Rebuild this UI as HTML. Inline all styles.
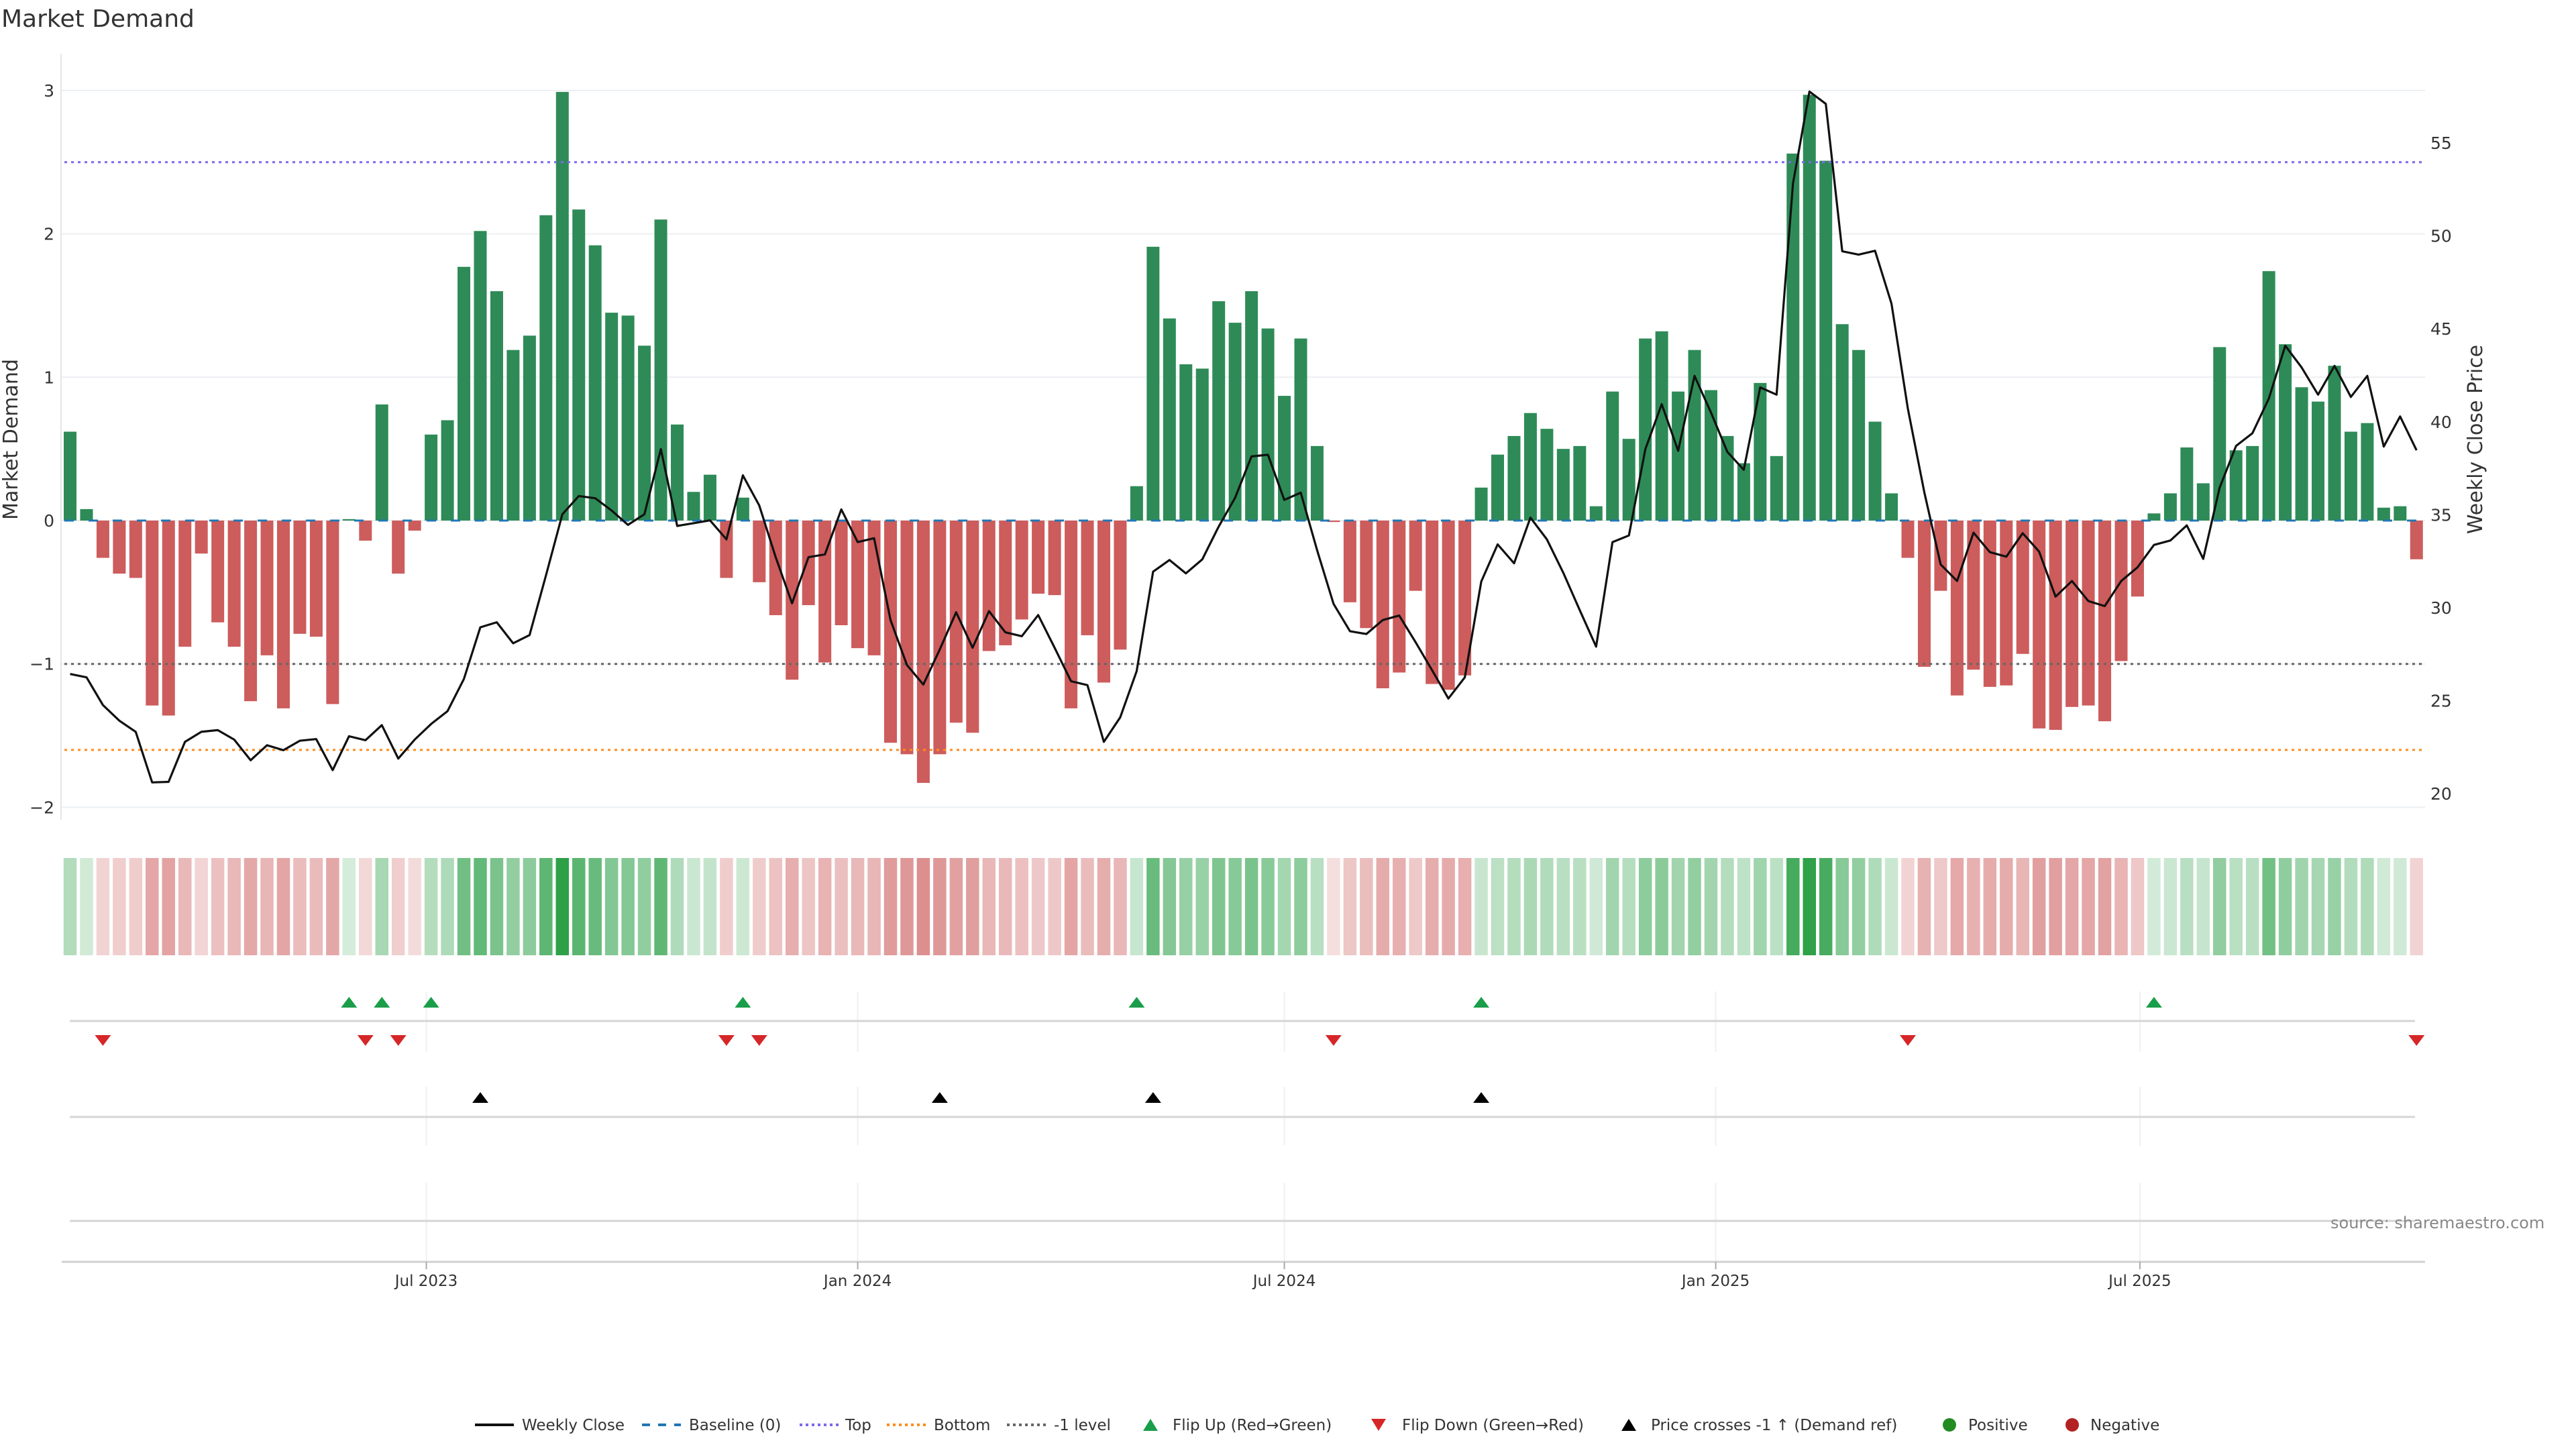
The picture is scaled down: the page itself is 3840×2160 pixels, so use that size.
<!DOCTYPE html>
<html><head><meta charset="utf-8">
<style>
html,body{margin:0;padding:0;background:#fff;}
svg{display:block;font-family:"DejaVu Sans","Liberation Sans",sans-serif;}
</style></head>
<body>
<svg id="chart" width="3840" height="2160" viewBox="0 0 3840 2160" xmlns="http://www.w3.org/2000/svg">
<rect width="3840" height="2160" fill="#fff"/>
<text x="2" y="40" font-size="36" fill="#333">Market Demand</text>
<text transform="translate(26,655) rotate(-90)" text-anchor="middle" font-size="30" fill="#333">Market Demand</text>
<text transform="translate(3700,655) rotate(-90)" text-anchor="middle" font-size="30" fill="#333">Weekly Close Price</text>
<g id="grid"></g>
<g id="bars"></g>
<g id="refs"></g>
<g id="price"></g>
<g id="heat"></g>
<g id="events"></g>
<g id="xaxis"></g>
<text x="3474" y="1831" font-size="24" fill="#888">source: sharemaestro.com</text>
<g id="legend"></g>
</svg>
<script>
const demand = [0.62,0.08,-0.26,-0.37,-0.40,-1.29,-1.36,-0.88,-0.23,-0.71,-0.88,-1.26,-0.94,-1.31,-0.79,-0.81,-1.28,0.01,-0.14,0.81,-0.37,-0.07,0.60,0.70,1.77,2.02,1.60,1.19,1.29,2.13,2.99,2.17,1.92,1.45,1.43,1.22,2.10,0.67,0.20,0.32,-0.40,0.16,-0.43,-0.66,-1.11,-0.59,-0.99,-0.73,-0.89,-0.94,-1.55,-1.63,-1.83,-1.63,-1.41,-1.48,-0.91,-0.87,-0.69,-0.51,-0.52,-1.31,-0.80,-1.13,-0.90,0.24,1.91,1.41,1.09,1.06,1.53,1.38,1.60,1.34,0.87,1.27,0.52,-0.01,-0.57,-0.75,-1.17,-1.06,-0.49,-1.14,-1.18,-1.08,0.23,0.46,0.59,0.75,0.64,0.50,0.52,0.10,0.90,0.57,1.27,1.32,0.90,1.19,0.91,0.59,0.40,0.96,0.45,2.56,2.97,2.51,1.37,1.19,0.69,0.19,-0.26,-1.02,-0.49,-1.22,-1.04,-1.16,-1.15,-0.93,-1.45,-1.46,-1.30,-1.29,-1.40,-0.98,-0.53,0.05,0.19,0.51,0.26,1.21,0.49,0.52,1.74,1.23,0.93,0.83,1.08,0.62,0.68,0.09,0.10,-0.27];
const closePrice = [26.44,26.26,24.77,23.93,23.33,20.61,20.64,22.79,23.33,23.42,22.91,21.80,22.61,22.34,22.85,22.94,21.27,23.09,22.88,23.69,21.89,22.91,23.75,24.44,26.17,28.95,29.22,28.09,28.53,31.73,35.03,36.01,35.89,35.23,34.46,35.03,38.53,34.40,34.55,34.70,33.68,37.12,35.50,32.72,30.24,32.72,32.87,35.29,33.53,33.74,29.34,26.92,25.87,27.76,29.76,27.85,29.82,28.68,28.47,29.61,27.85,26.05,25.84,22.79,24.11,26.59,31.94,32.57,31.85,32.60,34.37,35.92,38.14,38.23,35.80,36.19,33.08,30.21,28.74,28.59,29.34,29.58,28.15,26.65,25.12,26.26,31.41,33.41,32.39,34.85,33.68,31.88,29.88,27.91,33.53,33.89,38.53,40.95,38.44,42.47,40.50,38.38,37.42,41.85,41.46,52.82,57.76,57.10,49.17,48.99,49.20,46.36,40.71,36.22,32.33,31.44,34.04,32.99,32.75,34.01,33.02,30.60,31.44,30.36,30.09,31.44,32.18,33.38,33.62,34.43,32.63,36.46,38.70,39.39,41.25,44.09,42.92,41.46,43.01,41.34,42.47,38.67,40.29,38.47];
const flipUpIdx = [17,19,22,41,65,86,127];
const flipDownIdx = [2,18,20,40,42,77,112,143];
const priceCrossIdx = [25,53,66,86];
const leftTicks = [3,2,1,0,-1,-2];
const rightTicks = [55,50,45,40,35,30,25,20];
const dateTickLabels = ["Jul 2023","Jan 2024","Jul 2024","Jan 2025","Jul 2025"];
const dateTickWeeks = [21.71,48.0,74.0,100.29,126.14];
const topLevel = 2.5, bottomLevel = -1.6, minusLevel = -1;

const NS="http://www.w3.org/2000/svg";
function mk(parent,tag,attrs,text){const e=document.createElementNS(NS,tag);for(const k in attrs)e.setAttribute(k,attrs[k]);if(text!==undefined)e.textContent=text;parent.appendChild(e);return e;}
const X0=104.5, PITCH=24.46;
const xs=i=>X0+i*PITCH;
const yL=v=>776-v*213.7;
const yR=p=>906-(p-30)*27.72;
const PL=91, PR=3615;

const grid=document.getElementById('grid');
leftTicks.forEach(t=>{
  const l=mk(grid,'line',{x1:PL,x2:PR,y1:yL(t),y2:yL(t),stroke:'#eceff2','stroke-width':2});
  
  
  const tx=mk(grid,'text',{x:PL-10,y:yL(t)+9,'text-anchor':'end','font-size':25,fill:'#333'},t<0?'\u2212'+Math.abs(t):String(t));
  
  
});
rightTicks.forEach(t=>{
  const tx=mk(grid,'text',{x:3623,y:yR(t)+9,'font-size':25,fill:'#333'},String(t));
  
  
});
const ax=mk(grid,'line',{x1:PL,x2:PL,y1:80,y2:1222,stroke:'#e6e6e6','stroke-width':2});



const bars=document.getElementById('bars');
demand.forEach((v,i)=>{
  const y0=yL(0), y1=yL(v);
  const r=mk(bars,'rect',{x:xs(i)-9.5,y:Math.min(y0,y1),width:19,height:Math.max(0.5,Math.abs(y1-y0)),fill:v>=0?'#2e8b57':'#cd5c5c'});
  
  
});

const refs=document.getElementById('refs');
function ref(v,color,dash,name){const l=mk(refs,'line',{x1:PL+5,x2:PR,y1:yL(v),y2:yL(v),stroke:color,'stroke-width':3,'stroke-dasharray':dash});
  
  }
ref(0,'#1f77b4','14 22','baseline-line');
ref(topLevel,'#7b68ee','4 6','top-line');
ref(minusLevel,'#666','4 6','minus-one-line');
ref(bottomLevel,'#ff8c1a','4 6','bottom-line');

const pr=document.getElementById('price');
const pl=mk(pr,'polyline',{points:closePrice.map((p,i)=>xs(i).toFixed(1)+','+yR(p).toFixed(1)).join(' '),fill:'none',stroke:'#111','stroke-width':3.2,'stroke-linejoin':'round'});



const heat=document.getElementById('heat');
demand.forEach((v,i)=>{
  const a=Math.min(1,0.2+0.8*Math.abs(v)/3);
  const base=v>=0?[44,160,72]:[205,92,92];
  const c=base.map(b=>Math.round(b*a+255*(1-a)));
  const r=mk(heat,'rect',{x:xs(i)-9.75,y:1279,width:19.5,height:145,fill:`rgb(${c[0]},${c[1]},${c[2]})`});
  
  
});

const ev=document.getElementById('events');
[[1478,1568],[1620,1708],[1763,1880]].forEach(([a,b])=>{
  dateTickWeeks.forEach(w=>{const l=mk(ev,'line',{x1:xs(w),x2:xs(w),y1:a,y2:b,stroke:'#eef0f3','stroke-width':2});
    
    });
});
[1522,1665,1820].forEach(y=>{const l=mk(ev,'line',{x1:104,x2:3600,y1:y,y2:y,stroke:'#d5d5d5','stroke-width':3});
  
  });
function tri(x,y,up,color,name){const h=16,w=12;
  const pts=up?`${x-w},${y+h/2} ${x+w},${y+h/2} ${x},${y-h/2}`:`${x-w},${y-h/2} ${x+w},${y-h/2} ${x},${y+h/2}`;
  const t=mk(ev,'polygon',{points:pts,fill:color});
  
  }
flipUpIdx.forEach(i=>tri(xs(i),1494,true,'#1a9e4a','flip-up-marker'));
flipDownIdx.forEach(i=>tri(xs(i),1551,false,'#d62728','flip-down-marker'));
priceCrossIdx.forEach(i=>tri(xs(i),1636,true,'#000','price-cross-marker'));

const xa=document.getElementById('xaxis');
const axl=mk(xa,'line',{x1:92,x2:3615,y1:1881,y2:1881,stroke:'#d0d0d0','stroke-width':3});


dateTickWeeks.forEach((w,k)=>{
  const t=mk(xa,'line',{x1:xs(w),x2:xs(w),y1:1881,y2:1892,stroke:'#aaa','stroke-width':2});
  
  
  const tx=mk(xa,'text',{x:xs(w),y:1917,'text-anchor':'middle','font-size':23,fill:'#333'},dateTickLabels[k]);
  
  
});

const lg=document.getElementById('legend');
const LY=2124;
function ltext(x,s){const t=mk(lg,'text',{x:x,y:LY+8,'font-size':23,fill:'#333'},s);
  
  }
function lline(x1,x2,color,dash,w){const l=mk(lg,'line',{x1:x1,x2:x2,y1:LY,y2:LY,stroke:color,'stroke-width':w,'stroke-dasharray':dash});
  
  }
lline(708,766,'#111','none',4); ltext(778,'Weekly Close');
lline(957,1015,'#1f77b4','12 12',4); ltext(1027,'Baseline (0)');
lline(1192,1250,'#7b68ee','4 5',4); ltext(1260,'Top');
lline(1322,1380,'#ff8c1a','4 5',4); ltext(1392,'Bottom');
lline(1501,1560,'#666','4 5',4); ltext(1571,'-1 level');
function ltri(x,up,color){const pts=up?`${x-11},${LY+9} ${x+11},${LY+9} ${x},${LY-9}`:`${x-11},${LY-9} ${x+11},${LY-9} ${x},${LY+9}`;
  const t=mk(lg,'polygon',{points:pts,fill:color});
  
  }
ltri(1715,true,'#1a9e4a'); ltext(1748,'Flip Up (Red\u2192Green)');
ltri(2055,false,'#d62728'); ltext(2090,'Flip Down (Green\u2192Red)');
ltri(2428,true,'#000'); ltext(2461,'Price crosses -1 \u2191 (Demand ref)');
function ldot(x,color){const c=mk(lg,'circle',{cx:x,cy:LY,r:10,fill:color});
  
  }
ldot(2906,'#228b22'); ltext(2934,'Positive');
ldot(3089,'#b22222'); ltext(3116,'Negative');
</script>
</body></html>
